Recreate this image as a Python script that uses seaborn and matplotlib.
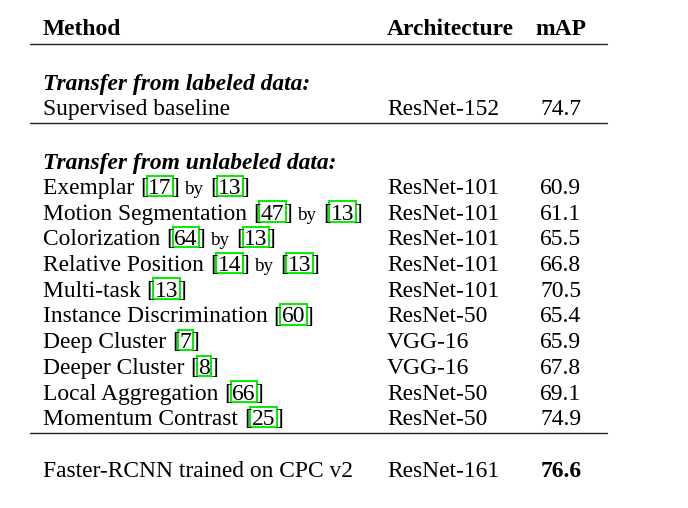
import re
import matplotlib
matplotlib.use("Agg")
import matplotlib.pyplot as plt
from matplotlib.patches import Rectangle
import seaborn as sns

# Data
headers = ["Method", "Architecture", "mAP"]

labeled_title = "Transfer from labeled data:"
labeled_methods = ["Supervised baseline"]
labeled_archs = ["ResNet-152"]
labeled_map = [74.7]

unlabeled_title = "Transfer from unlabeled data:"
unlabeled_methods = [
    "Exemplar [17] by [13]",
    "Motion Segmentation [47] by [13]",
    "Colorization [64] by [13]",
    "Relative Position [14] by [13]",
    "Multi-task [13]",
    "Instance Discrimination [60]",
    "Deep Cluster [7]",
    "Deeper Cluster [8]",
    "Local Aggregation [66]",
    "Momentum Contrast [25]",
]
unlabeled_archs = ["ResNet-101", "ResNet-101", "ResNet-101", "ResNet-101", "ResNet-101",
                   "ResNet-50", "VGG-16", "VGG-16", "ResNet-50", "ResNet-50"]
unlabeled_map = [60.9, 61.1, 65.5, 66.8, 70.5, 65.4, 65.9, 67.8, 69.1, 74.9]

ours_methods = ["Faster-RCNN trained on CPC v2"]
ours_archs = ["ResNet-161"]
ours_map = [76.6]

best = max(labeled_map + unlabeled_map + ours_map)

sns.set_theme(style="white")
plt.rcParams["font.family"] = ["Liberation Serif", "DejaVu Serif"]
plt.rcParams["text.color"] = "black"
plt.rcParams["text.hinting"] = "no_autohint"

FS = 16.9       # main font size (pt)
SMALL = 13.6    # size of the "by" word
GREEN = "#00ee00"
W, H = 688, 508

fig = plt.figure(figsize=(W / 100, H / 100), dpi=100)
ax = fig.add_axes([0, 0, 1, 1])
ax.set_xlim(0, W)
ax.set_ylim(H, 0)
ax.axis("off")
renderer = fig.canvas.get_renderer()

X_METHOD, X_ARCH, X_MAP = 43, 387, 561
RULE_X0, RULE_X1 = 30, 607
ROW = 25.7
CAP = FS * 100 / 72 * 0.676


def ink_w(s, size):
    t = ax.text(0, 0, s, fontsize=size)
    w = t.get_window_extent(renderer).width
    t.remove()
    return w


def advance(s, size=FS):
    if not s:
        return 0.0
    return ink_w("|" + s + "|", size) - ink_w("||", size)


BY_FIX = advance("by", SMALL) - advance("by", FS)


def draw_method(y, label):
    # split into pieces: plain text, citation numbers, the small "by"
    pieces = []
    for part in re.split(r"(\[\d+\]|by(?= \[))", label):
        if not part:
            continue
        m = re.fullmatch(r"\[(\d+)\]", part)
        if m:
            pieces += [("[", "plain"), (m.group(1), "cite"), ("]", "plain")]
        elif part == "by":
            pieces.append(("by", "small"))
        else:
            pieces.append((part, "plain"))
    prefix, fix = "", 0.0
    for s, kind in pieces:
        x = X_METHOD + advance(prefix) + fix
        size = SMALL if kind == "small" else FS
        ax.text(x, y, s, fontsize=size, va="baseline")
        if kind == "cite":
            w = ink_w(s, FS)
            ax.add_patch(Rectangle((x - 1.5, y - CAP - 2.5), w + 3, CAP + 4.5,
                                   fill=False, ec=GREEN, lw=1.4))
        if kind == "small":
            fix += BY_FIX
        prefix += s


def draw_rows(y, methods, archs, maps):
    for i, (meth, arch, val) in enumerate(zip(methods, archs, maps)):
        yy = y + i * ROW
        draw_method(yy, meth)
        ax.text(X_ARCH, yy, arch, fontsize=FS, va="baseline")
        ax.text(X_MAP, yy, f"{val:.1f}", fontsize=FS, va="baseline", ha="center",
                fontweight="bold" if val == best else "normal")


def rule(y):
    ax.plot([RULE_X0, RULE_X1], [y, y], color="#222222", lw=1.0)


# header
ax.text(X_METHOD, 35, headers[0], fontsize=FS, fontweight="bold", va="baseline")
ax.text(X_ARCH, 35, headers[1], fontsize=FS, fontweight="bold", va="baseline")
ax.text(X_MAP, 35, headers[2], fontsize=FS, fontweight="bold", va="baseline", ha="center")
rule(44)

# labeled block
ax.text(X_METHOD, 90, labeled_title, fontsize=FS, fontweight="bold", fontstyle="italic", va="baseline")
draw_rows(115, labeled_methods, labeled_archs, labeled_map)
rule(123)

# unlabeled block
ax.text(X_METHOD, 169, unlabeled_title, fontsize=FS, fontweight="bold", fontstyle="italic", va="baseline")
draw_rows(194, unlabeled_methods, unlabeled_archs, unlabeled_map)
rule(433)

# ours
draw_rows(477, ours_methods, ours_archs, ours_map)

fig.savefig("out.png", dpi=100, facecolor="white")
